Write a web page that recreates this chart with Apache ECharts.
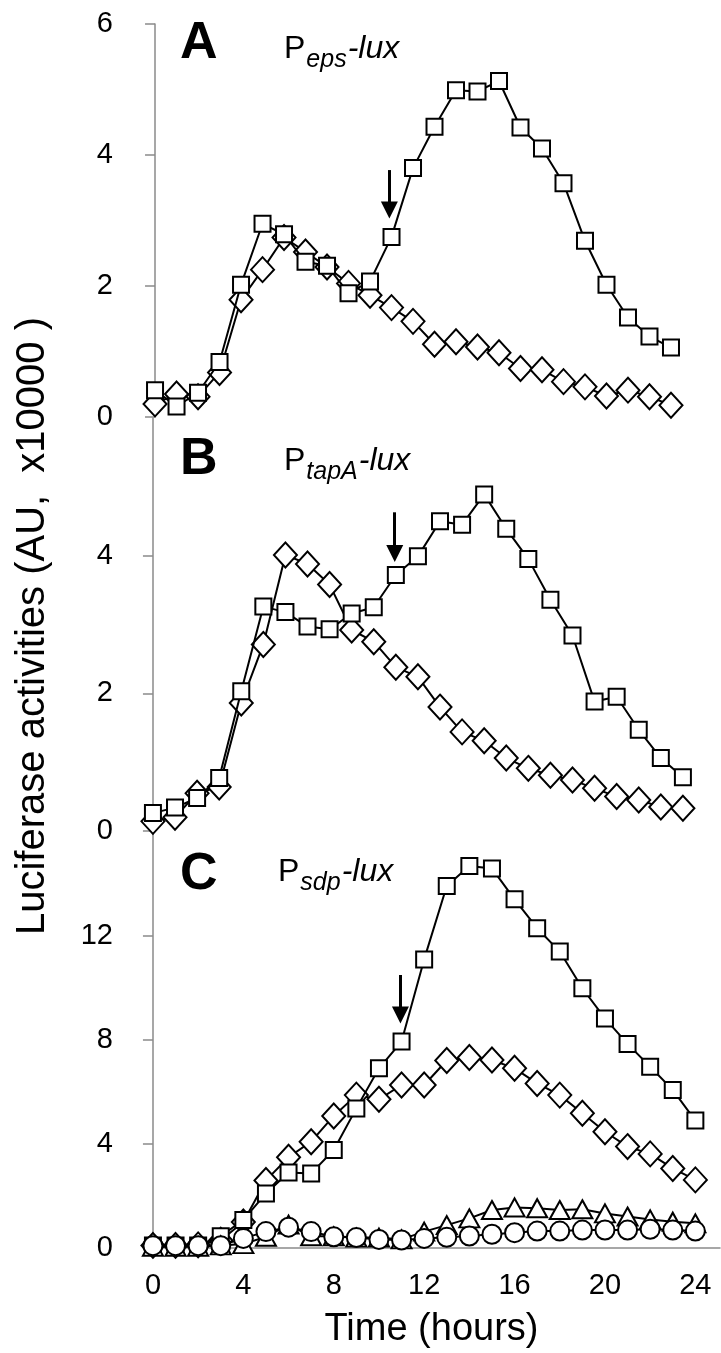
<!DOCTYPE html>
<html><head><meta charset="utf-8">
<script src="https://cdn.jsdelivr.net/npm/echarts@6/dist/echarts.min.js"></script>
<style>html,body{margin:0;padding:0;background:#fff}#c{width:721px;height:1353px}</style>
</head><body><div id="c"></div>
<script>
const hours = [0,1,2,3,4,5,6,7,8,9,10,11,12,13,14,15,16,17,18,19,20,21,22,23,24];
const xTicks = [0,4,8,12,16,20,24];
// Panel A: P_eps-lux
const aSquare  = [0.41,0.16,0.37,0.84,2.02,2.95,2.79,2.37,2.31,1.89,2.07,2.75,3.80,4.43,4.99,4.97,5.13,4.42,4.10,3.57,2.69,2.02,1.52,1.23,1.06];
const aDiamond = [0.20,0.35,0.31,0.68,1.79,2.25,2.74,2.52,2.29,2.04,1.86,1.67,1.46,1.11,1.15,1.07,0.98,0.74,0.72,0.54,0.46,0.32,0.41,0.31,0.18];
// Panel B: P_tapA-lux
const bSquare  = [0.26,0.34,0.48,0.77,2.03,3.26,3.18,2.97,2.93,3.16,3.25,3.72,3.99,4.50,4.45,4.89,4.39,3.95,3.36,2.84,1.88,1.95,1.47,1.06,0.78];
const bDiamond = [0.14,0.20,0.55,0.64,1.86,2.71,4.01,3.88,3.58,2.92,2.75,2.38,2.24,1.80,1.44,1.31,1.06,0.91,0.81,0.74,0.62,0.50,0.45,0.35,0.33];
// Panel C: P_sdp-lux
const cSquare   = [0.10,0.10,0.10,0.45,1.08,2.10,2.90,2.87,3.77,5.37,6.91,7.94,11.10,13.92,14.69,14.60,13.41,12.30,11.40,9.99,8.83,7.85,6.97,6.08,4.90];
const cDiamond  = [0.10,0.10,0.12,0.30,1.00,2.60,3.49,4.09,5.08,5.88,5.72,6.27,6.27,7.21,7.33,7.23,6.91,6.33,5.88,5.18,4.47,3.90,3.62,3.06,2.62];
const cTriangle = [0.05,0.05,0.05,0.10,0.15,0.43,0.90,0.45,0.45,0.40,0.40,0.33,0.63,0.88,1.14,1.46,1.56,1.53,1.46,1.49,1.33,1.21,1.10,1.01,0.95];
const cCircle   = [0.09,0.09,0.09,0.09,0.37,0.63,0.80,0.63,0.43,0.40,0.33,0.31,0.37,0.41,0.46,0.53,0.59,0.65,0.65,0.69,0.69,0.69,0.72,0.69,0.65];
// arrows: [hour, start value, end value]
const arrowA = [10.9, 3.77, 3.16];
const arrowB = [10.95, 4.63, 4.03];
const arrowC = [10.95, 10.5, 8.96];
// panel titles
const panelLetters = ['A','B','C'];
const promoterSubs = ['eps','tapA','sdp'];

const FONT = '"Liberation Sans", Arial, sans-serif';
const axisGray = '#8a8a8a';

function pts(arr){ return hours.map((h,i)=>[h, arr[i]]); }
function ser(gi, arr, symbol, size, z){
  return {type:'line', xAxisIndex:gi, yAxisIndex:gi, data:pts(arr), symbol:symbol, symbolSize:size,
    showSymbol:true, showAllSymbol:true, z:z,
    itemStyle:{color:'#fff', borderColor:'#000', borderWidth:2},
    lineStyle:{color:'#000', width:2}, animation:false, silent:true};
}
function arrow(a){
  return {silent:true, animation:false, symbol:['none','triangle'], symbolSize:17,
    lineStyle:{color:'#000', width:3, type:'solid'}, label:{show:false},
    emphasis:{disabled:true},
    data:[[{coord:[a[0], a[1]]},{coord:[a[0], a[2]]}]]};
}
function yAx(gi, max, interval){
  return {gridIndex:gi, type:'value', min:0, max:max, interval:interval,
    axisLine:{show:true, lineStyle:{color:axisGray, width:1.5}},
    axisTick:{show:true, inside:false, length:10, lineStyle:{color:axisGray, width:1.5}},
    axisLabel:{fontSize:29, fontFamily:FONT, color:'#000', margin:30, showMaxLabel: gi===0},
    splitLine:{show:false}};
}

// measure text to chain the title pieces
const ctx = document.createElement('canvas').getContext('2d');
function tw(text, font){ ctx.font = font; return ctx.measureText(text).width; }
const fP = '32px ' + FONT, fS = 'italic 25px ' + FONT, fL = 'italic 32px ' + FONT;
function subtitle(x0, yMid, sub){
  const x1 = x0 + tw('P', fP) + 1;
  const x2 = x1 + tw(sub, fS) + 1;
  return [
    {type:'text', x:x0, y:yMid, silent:true, style:{text:'P', font:fP, fill:'#000', align:'left', verticalAlign:'middle'}},
    {type:'text', x:x1, y:yMid + 11, silent:true, style:{text:sub, font:fS, fill:'#000', align:'left', verticalAlign:'middle'}},
    {type:'text', x:x2, y:yMid, silent:true, style:{text:'-lux', font:fL, fill:'#000', align:'left', verticalAlign:'middle'}}
  ];
}
function letter(t, yMid){
  return {type:'text', x:180, y:yMid, silent:true, style:{text:t, font:'bold 52px '+FONT, fill:'#000', align:'left', verticalAlign:'middle'}};
}

const sA = ser(0, aSquare, 'rect', 16, 3); sA.markLine = arrow(arrowA);
const sB = ser(1, bSquare, 'rect', 16, 3); sB.markLine = arrow(arrowB);
const sC = ser(2, cSquare, 'rect', 16, 3); sC.markLine = arrow(arrowC);

const option = {
  animation:false,
  backgroundColor:'#fff',
  grid:[
    {left:143, top:24, width:577, height:393},
    {left:143, top:418, width:577, height:413},
    {left:143, top:832, width:577, height:416}
  ],
  xAxis:[
    {gridIndex:0, type:'value', min:-0.56, max:26.28, show:false},
    {gridIndex:1, type:'value', min:-0.45, max:25.68, show:false},
    {gridIndex:2, type:'value', min:-0.44, max:25.09,
      axisLine:{show:true, onZero:false, lineStyle:{color:axisGray, width:1.5}},
      axisTick:{show:false},
      axisLabel:{fontSize:29, fontFamily:FONT, color:'#000', margin:23, customValues:xTicks},
      splitLine:{show:false},
      name:'Time (hours)', nameLocation:'middle', nameGap:63,
      nameTextStyle:{fontSize:38, fontFamily:FONT, color:'#000'}}
  ],
  yAxis:[ yAx(0,6,2), yAx(1,6,2), yAx(2,16,4) ],
  series:[
    ser(0, aDiamond, 'diamond', [23,25], 2), sA,
    ser(1, bDiamond, 'diamond', [23,25], 2), sB,
    ser(2, cDiamond, 'diamond', [23,25], 2), sC,
    ser(2, cTriangle, 'triangle', [20,18], 4),
    ser(2, cCircle, 'circle', 19, 5)
  ],
  graphic:[
    {type:'text', x:33, y:626, rotation:Math.PI/2, silent:true,
      style:{text:'Luciferase activities (AU,  x10000 )', font:'40px '+FONT, fill:'#000', align:'center', verticalAlign:'middle'}},
    letter(panelLetters[0], 44), letter(panelLetters[1], 460), letter(panelLetters[2], 875)
  ].concat(subtitle(284, 49, promoterSubs[0]), subtitle(284, 461, promoterSubs[1]), subtitle(278, 872, promoterSubs[2]))
};
const chart = echarts.init(document.getElementById('c'), null, {renderer:'canvas'});
chart.setOption(option);
</script>
</body></html>
